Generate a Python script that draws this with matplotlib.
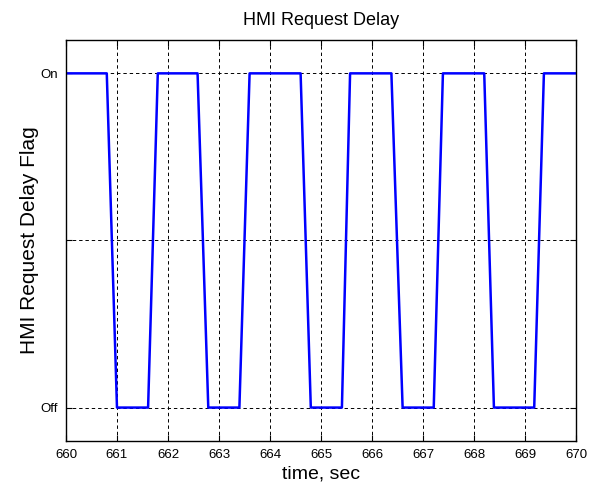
import matplotlib
matplotlib.use('Agg')
import matplotlib.pyplot as plt

# Delay flag switching times (sec) and state (1 = On, 0 = Off)
time_sec = [660.0, 660.80, 661.00, 661.61, 661.80, 662.58, 662.79, 663.40,
            663.60, 664.60, 664.80, 665.41, 665.57, 666.38, 666.60, 667.21,
            667.39, 668.20, 668.39, 669.18, 669.37, 670.0]
flag = [1, 1, 0, 0, 1, 1, 0, 0, 1, 1, 0, 0, 1, 1, 0, 0, 1, 1, 0, 0, 1, 1]

x_ticks = list(range(660, 671))
y_ticks = [0, 0.5, 1]
y_labels = ['Off', '', 'On']

plt.rcParams['font.family'] = ['Liberation Sans', 'DejaVu Sans']

fig = plt.figure(figsize=(5.89, 4.93), dpi=100)
ax = fig.add_axes([0.112, 0.1055, 0.866, 0.8135])

ax.plot(time_sec, flag, color='#0000ff', linewidth=1.8)

ax.set_xlim(660, 670)
ax.set_ylim(-0.1, 1.1)
ax.set_xticks(x_ticks)
ax.set_yticks(y_ticks)
ax.set_yticklabels(y_labels)
ax.tick_params(direction='in', top=True, right=True, labelsize=9.5,
               length=4, pad=6)
ax.grid(True, color='black', linestyle=(0, (3.5, 3)), linewidth=0.7)

for s in ax.spines.values():
    s.set_linewidth(1.0)

ax.set_title('HMI Request Delay', fontsize=13, pad=11)
ax.set_xlabel('time, sec', fontsize=14, labelpad=3)
ax.set_ylabel('HMI Request Delay Flag', fontsize=15, labelpad=1)

fig.savefig('out.png', dpi=100)
